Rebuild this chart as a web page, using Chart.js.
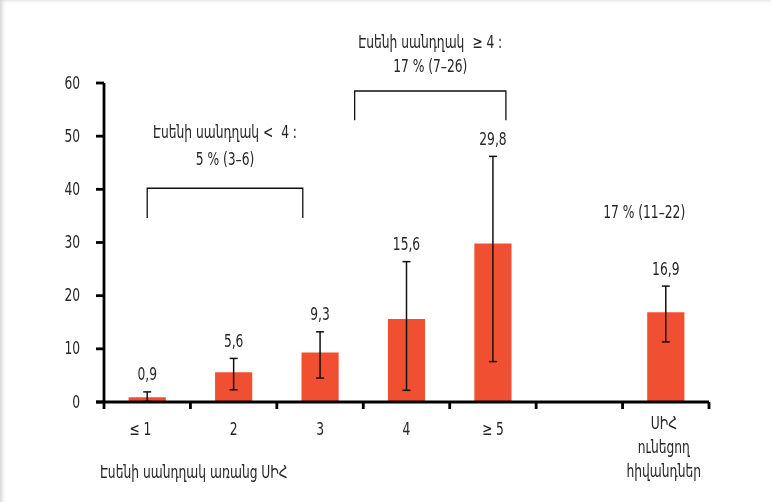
<!DOCTYPE html>
<html>
<head>
<meta charset="utf-8">
<script src="https://cdn.jsdelivr.net/npm/chart.js@4/dist/chart.umd.min.js"></script>
<style>
    html, body { margin: 0; padding: 0; background: #fff; }
    #wrap {
        position: relative; width: 771px; height: 502px;
        box-shadow: inset 4px 2px 4px -2px rgba(0, 0, 0, 0.18);
    }
</style>
</head>
<body>
<div id="wrap"><canvas id="chartEssen"></canvas></div>
<script>
const categories = ["≤ 1", "2", "3", "4", "≥ 5", "", "ՍԻՀ"];
const values = [0.9, 5.6, 9.3, 15.6, 29.8, null, 16.9];
const errLow = [0.1, 2.3, 4.5, 2.2, 7.6, null, 11.3];
const errHigh = [1.9, 8.2, 13.2, 26.4, 46.2, null, 21.8];
const yTicks = [0, 10, 20, 30, 40, 50, 60];
const lastLabelLines = ["ՍԻՀ", "ունեցող", "հիվանդներ"];

const FONT = "17.5px 'DejaVu Sans Condensed', 'DejaVu Sans', sans-serif";
const SX = 0.78;
const TEXT = "#262626";

function label(ctx, str, x, y, align) {
    ctx.save();
    ctx.translate(x, y);
    ctx.scale(SX, 1);
    ctx.textAlign = align || "center";
    ctx.textBaseline = "middle";
    ctx.fillText(str, 0, 0);
    ctx.restore();
}

function line(ctx, pts) {
    ctx.beginPath();
    ctx.moveTo(pts[0][0], pts[0][1]);
    for (let i = 1; i < pts.length; i++) ctx.lineTo(pts[i][0], pts[i][1]);
    ctx.stroke();
}

const overlay = {
    id: "overlay",
    afterDatasetsDraw(chart) {
        const ctx = chart.ctx;
        const xs = chart.scales.x;
        const ys = chart.scales.y;
        const half = (xs.getPixelForValue(1) - xs.getPixelForValue(0)) / 2;
        const y0 = ys.getPixelForValue(0);

        ctx.save();
        ctx.font = FONT;
        ctx.fillStyle = TEXT;

        // error bars + value labels
        ctx.strokeStyle = "#111";
        ctx.lineWidth = 1.5;
        values.forEach((v, i) => {
            if (v === null) return;
            const px = xs.getPixelForValue(i);
            const lo = ys.getPixelForValue(errLow[i]);
            const hi = ys.getPixelForValue(errHigh[i]);
            line(ctx, [[px, lo], [px, hi]]);
            line(ctx, [[px - 4, hi], [px + 4, hi]]);
            line(ctx, [[px - 4, lo], [px + 4, lo]]);
            label(ctx, String(v).replace(".", ","), px, hi - 16);
        });

        // axes
        ctx.strokeStyle = "#000";
        ctx.lineWidth = 2.8;
        const left = xs.left, right = xs.right;
        line(ctx, [[left, ys.getPixelForValue(60)], [left, y0]]);
        line(ctx, [[left - 8, y0], [right, y0]]);
        yTicks.forEach(t => {
            const py = ys.getPixelForValue(t);
            line(ctx, [[left - 8, py], [left, py]]);
            label(ctx, String(t), left - 24, py + 1, "right");
        });
        for (let i = 0; i <= categories.length; i++) {
            const px = xs.getPixelForValue(i) - half;
            line(ctx, [[px, y0], [px, y0 + 7]]);
        }

        // category labels
        categories.forEach((c, i) => {
            if (i === categories.length - 1 || !c) return;
            label(ctx, c, xs.getPixelForValue(i) - (i === 0 ? 7 : 0), y0 + 28);
        });
        lastLabelLines.forEach((t, k) => {
            label(ctx, t, xs.getPixelForValue(6) - 2, y0 + 22 + k * 24);
        });
        label(ctx, "Էսենի սանդղակ առանց ՍԻՀ", left - 4, y0 + 71, "left");

        // brackets
        ctx.lineWidth = 1.3;
        ctx.strokeStyle = "#111";
        const bx1 = xs.getPixelForValue(0), bx2 = xs.getPixelForValue(1.8);
        const bt = ys.getPixelForValue(40.2), bb = ys.getPixelForValue(34.6);
        line(ctx, [[bx1, bb], [bx1, bt], [bx2, bt], [bx2, bb]]);
        const tx1 = xs.getPixelForValue(2.4), tx2 = xs.getPixelForValue(4.15);
        const tt = ys.getPixelForValue(58.5), tb = ys.getPixelForValue(53);
        line(ctx, [[tx1, tb], [tx1, tt], [tx2, tt], [tx2, tb]]);

        // annotations
        const lc = (bx1 + bx2) / 2;
        label(ctx, "Էսենի սանդղակ <  4 :", lc, ys.getPixelForValue(50.5));
        label(ctx, "5 % (3–6)", lc, ys.getPixelForValue(45.5));
        const tc = (tx1 + tx2) / 2;
        label(ctx, "Էսենի սանդղակ  ≥ 4 :", tc, ys.getPixelForValue(67.5));
        label(ctx, "17 % (7–26)", tc, ys.getPixelForValue(63));
        label(ctx, "17 % (11–22)", xs.getPixelForValue(5.75), ys.getPixelForValue(35.5));

        ctx.restore();
    }
};

new Chart(document.getElementById("chartEssen"), {
    type: "bar",
    data: {
        labels: categories,
        datasets: [{
            data: values,
            backgroundColor: "#F04F32",
            borderWidth: 0,
            categoryPercentage: 1,
            barPercentage: 0.43
        }]
    },
    options: {
        responsive: true,
        maintainAspectRatio: false,
        animation: false,
        layout: {
            padding: { left: 104, right: 62, top: 83, bottom: 100 }
        },
        scales: {
            x: { display: false },
            y: { display: false, min: 0, max: 60 }
        },
        plugins: {
            legend: { display: false },
            tooltip: { enabled: false }
        }
    },
    plugins: [overlay]
});
</script>
</body>
</html>
